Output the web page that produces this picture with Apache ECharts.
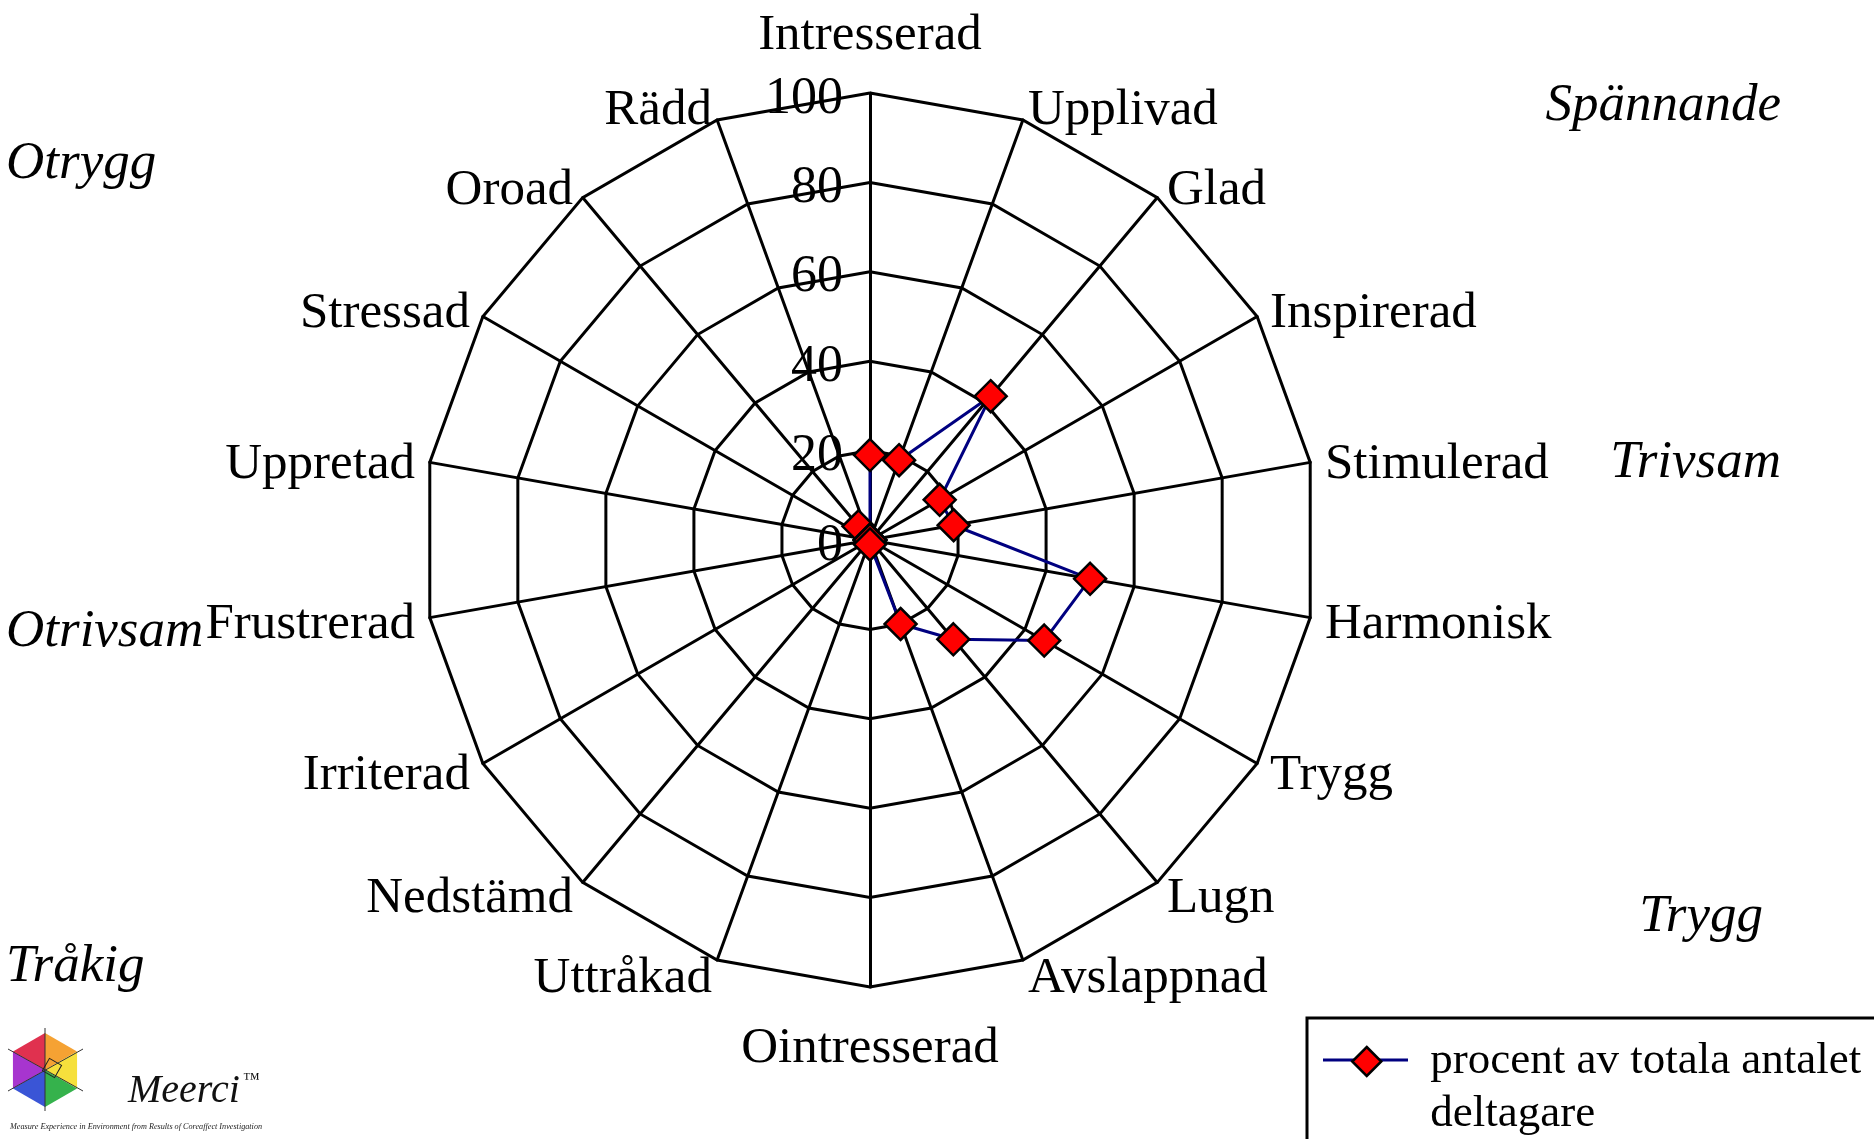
<!DOCTYPE html>
<html lang="sv">
<head>
<meta charset="utf-8">
<title>Meerci - känslor</title>
<style>
  html, body { margin: 0; padding: 0; background: #fff; }
  #chart { width: 1874px; height: 1139px; }
</style>
</head>
<body>
<div id="chart"></div>
<script src="https://cdn.jsdelivr.net/npm/echarts@6/dist/echarts.min.js"></script>
<script>
// indicators, clockwise from the top
const emotions = ['Intresserad', 'Upplivad', 'Glad', 'Inspirerad', 'Stimulerad', 'Harmonisk',
  'Trygg', 'Lugn', 'Avslappnad', 'Ointresserad', 'Uttråkad', 'Nedstämd', 'Irriterad',
  'Frustrerad', 'Uppretad', 'Stressad', 'Oroad', 'Rädd'];
// procent av totala antalet deltagare
const percentValues = [19, 19, 42, 18, 19, 50, 45, 29, 20, 1, 0, 0, 0, 0, 0, 0, 4, 0];
const scaleTicks = [0, 20, 40, 60, 80, 100];
const seriesName = 'procent av totala antalet deltagare';
// mood areas written around the chart
const moodAreas = ['Spännande', 'Otrygg', 'Trivsam', 'Otrivsam', 'Trygg', 'Tråkig'];
const logoName = 'Meerci';
const logoTagline = 'Measure Experience in Environment from Results of Coreaffect Investigation';

const serif = '"Liberation Serif", "Times New Roman", serif';
const chart = echarts.init(document.getElementById('chart'));

// echarts lays radar axes out counter-clockwise, so walk the list backwards after the first one
const order = [0].concat(emotions.map(function (e, i) { return i; }).slice(1).reverse());

const indicators = order.map(function (i) {
  const ang = i * 360 / emotions.length;
  const ind = {
    name: emotions[i],
    min: scaleTicks[0],
    max: scaleTicks[scaleTicks.length - 1],
    nameGap: ang === 0 ? 31 : (ang === 180 ? 48 : 15)
  };
  if (i === 0) {
    // blank first line with a small line height nudges the numbers a bit below the rings
    ind.axisLabel = { show: true, margin: 27, color: '#000', fontFamily: serif, fontSize: 52,
      lineHeight: 12, formatter: function (v) { return '\n' + v; } };
  }
  return ind;
});
const orderedValues = order.map(function (i) { return percentValues[i]; });

// logo hexagon
const hexC = [45, 1070], hexR = 37;
const hexColors = ['#f5a233', '#f6e03c', '#35b24c', '#3a55d6', '#a735cf', '#e0314f'];
const hexParts = hexColors.map(function (col, k) {
  const a1 = (90 - k * 60) * Math.PI / 180, a2 = (90 - (k + 1) * 60) * Math.PI / 180;
  return {
    type: 'polygon',
    shape: { points: [hexC,
      [hexC[0] + hexR * Math.cos(a1), hexC[1] - hexR * Math.sin(a1)],
      [hexC[0] + hexR * Math.cos(a2), hexC[1] - hexR * Math.sin(a2)]] },
    style: { fill: col }
  };
});

const moodPos = [
  { x: 1781, y: 106, align: 'right' },
  { x: 6, y: 164, align: 'left' },
  { x: 1781, y: 463, align: 'right' },
  { x: 6, y: 632, align: 'left' },
  { x: 1763, y: 917, align: 'right' },
  { x: 6, y: 967, align: 'left' }
];

const option = {
  backgroundColor: '#fff',
  animation: false,
  radar: {
    center: [870, 540],
    radius: 447,
    startAngle: 90,
    splitNumber: scaleTicks.length - 1,
    shape: 'polygon',
    indicator: indicators,
    axisName: { color: '#000', fontFamily: serif, fontSize: 51, lineHeight: 9,
      formatter: function (n) { return '\n' + n; } },
    axisLine: { lineStyle: { color: '#000', width: 3 } },
    splitLine: { lineStyle: { color: '#000', width: 3 } },
    splitArea: { show: false },
    axisTick: { show: false },
    axisLabel: { show: false }
  },
  legend: {
    left: 1351,
    top: 982,
    padding: 0,
    itemWidth: 29,
    itemHeight: 29,
    data: [{ name: seriesName, icon: 'diamond' }],
    itemStyle: { color: '#ff0000', borderColor: '#000', borderWidth: 2.5 },
    // empty first line keeps the symbol level with the first text line
    formatter: function (n) { return '\n' + n.replace('antalet ', 'antalet\n'); },
    textStyle: { color: '#000', fontFamily: serif, fontSize: 45, lineHeight: 53, padding: [0, 0, 0, 44] }
  },
  series: [{
    type: 'radar',
    name: seriesName,
    symbol: 'diamond',
    symbolSize: 32,
    itemStyle: { color: '#ff0000', borderColor: '#000', borderWidth: 2.5 },
    lineStyle: { color: '#000080', width: 3 },
    data: [{ name: seriesName, value: orderedValues }]
  }],
  graphic: [
    // legend frame and the line behind the legend symbol
    { type: 'rect', shape: { x: 1307, y: 1018, width: 600, height: 200 },
      style: { fill: 'none', stroke: '#000', lineWidth: 3 } },
    { type: 'line', shape: { x1: 1323, y1: 1060, x2: 1408, y2: 1060 },
      style: { stroke: '#000080', lineWidth: 3 } }
  ].concat(moodAreas.map(function (t, k) {
    return { type: 'text', x: moodPos[k].x, y: moodPos[k].y,
      style: { text: t, fill: '#000', font: 'italic 53px ' + serif,
        textAlign: moodPos[k].align, textVerticalAlign: 'middle' } };
  })).concat(hexParts).concat([
    { type: 'line', shape: { x1: 45, y1: 1028, x2: 45, y2: 1111 }, style: { stroke: '#333', lineWidth: 1 } },
    { type: 'line', shape: { x1: 8, y1: 1049, x2: 83, y2: 1091 }, style: { stroke: '#333', lineWidth: 1 } },
    { type: 'line', shape: { x1: 8, y1: 1091, x2: 83, y2: 1049 }, style: { stroke: '#333', lineWidth: 1 } },
    { type: 'rect', x: 52, y: 1068, rotation: -Math.PI / 6, originX: 0, originY: 0,
      shape: { x: -7, y: -7, width: 14, height: 14 }, style: { fill: 'none', stroke: '#222', lineWidth: 1 } },
    { type: 'text', x: 128, y: 1111, style: { text: logoName, fill: '#111', font: 'italic 40px ' + serif,
      textAlign: 'left', textVerticalAlign: 'bottom' } },
    { type: 'text', x: 243, y: 1080, style: { text: '™', fill: '#111', font: 'italic 17px ' + serif,
      textAlign: 'left', textVerticalAlign: 'middle' } },
    { type: 'text', x: 10, y: 1127, style: { text: logoTagline, fill: '#222', font: 'italic 8.2px ' + serif,
      textAlign: 'left', textVerticalAlign: 'middle' } }
  ])
};

chart.setOption(option);
window.onresize = function () { chart.resize(); };
</script>
</body>
</html>
